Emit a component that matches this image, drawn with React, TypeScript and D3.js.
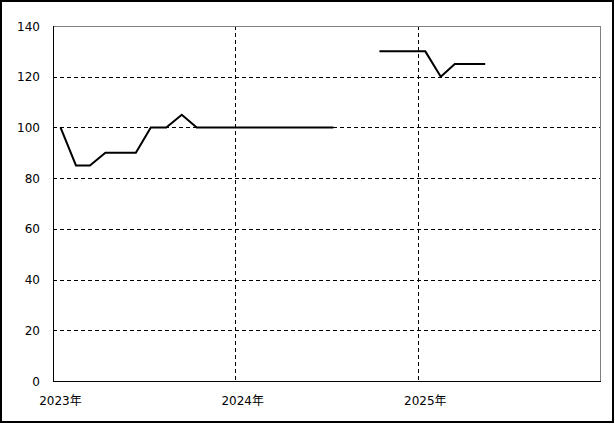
import React from "react";
import * as d3 from "d3";

const months: string[] = [
  "2023-01","2023-02","2023-03","2023-04","2023-05","2023-06","2023-07","2023-08","2023-09","2023-10","2023-11","2023-12",
  "2024-01","2024-02","2024-03","2024-04","2024-05","2024-06","2024-07","2024-08","2024-09","2024-10","2024-11","2024-12",
  "2025-01","2025-02","2025-03","2025-04","2025-05",
];
const values: (number | null)[] = [
  100, 85, 85, 90, 90, 90, 100, 100, 105, 100, 100, 100,
  100, 100, 100, 100, 100, 100, 100, null, null, 130, 130, 130,
  130, 120, 125, 125, 125,
];
const yTicks: number[] = [0, 20, 40, 60, 80, 100, 120, 140];
const yearTicks: number[] = [2023, 2024, 2025];
const yearLabels: string[] = ["2023年", "2024年", "2025年"];

const W = 615;
const H = 424;
const left = 53;
const right = 600;
const top = 26;
const bottom = 381;

export default function App() {
  const x = d3
    .scaleTime()
    .domain([new Date(2023, 0, 1), new Date(2026, 0, 1)])
    .range([left, right]);
  const y = d3.scaleLinear().domain([0, 140]).range([bottom, top]);

  const data = months.map((m, i) => {
    const [yy, mm] = m.split("-").map(Number);
    return { date: new Date(yy, mm - 1, 16), value: values[i] };
  });

  const line = d3
    .line<{ date: Date; value: number | null }>()
    .defined((d) => d.value != null)
    .x((d) => x(d.date))
    .y((d) => y(d.value as number));

  const font = "'DejaVu Sans', 'Noto Sans CJK JP', sans-serif";

  return (
    <svg
      width={W}
      height={H}
      style={{ position: "absolute", left: 0, top: 0, background: "#fff" }}
    >
      <rect x={0} y={0} width={W} height={H} fill="#fff" />
      <rect x={1} y={1} width={612} height={421} fill="none" stroke="#000" strokeWidth={2} />
      {/* horizontal gridlines */}
      {yTicks
        .filter((t) => t > 0 && t < 140)
        .map((t) => (
          <line
            key={"g" + t}
            x1={left}
            x2={right}
            y1={Math.round(y(t)) + 0.5}
            y2={Math.round(y(t)) + 0.5}
            stroke="#000"
            strokeDasharray="4,3"
          />
        ))}
      {/* vertical gridlines */}
      {yearTicks
        .filter((yr) => yr > 2023)
        .map((yr) => {
          const xx = Math.round(x(new Date(yr, 0, 1))) + 0.5;
          return (
            <line
              key={"v" + yr}
              x1={xx}
              x2={xx}
              y1={top}
              y2={bottom}
              stroke="#000"
              strokeDasharray="4,3"
            />
          );
        })}
      {/* frame */}
      <line x1={left} x2={right + 0.5} y1={top + 0.5} y2={top + 0.5} stroke="#808080" />
      <line x1={right + 0.5} x2={right + 0.5} y1={top} y2={bottom} stroke="#808080" />
      <line x1={left + 0.5} x2={left + 0.5} y1={top} y2={bottom + 1} stroke="#000" />
      <line x1={left} x2={right + 1} y1={bottom + 0.5} y2={bottom + 0.5} stroke="#000" />
      {/* data line */}
      <path d={line(data) || ""} fill="none" stroke="#000" strokeWidth={2} strokeLinejoin="miter" />
      {/* y labels */}
      {yTicks.map((t) => (
        <text
          key={"yl" + t}
          x={40}
          y={y(t) + 1}
          textAnchor="end"
          dominantBaseline="middle"
          fontFamily={font}
          fontSize={12}
          fill="#000"
        >
          {t}
        </text>
      ))}
      {/* x labels */}
      {yearTicks.map((yr, i) => (
        <text
          key={"xl" + yr}
          x={x(new Date(yr, 0, 16))}
          y={405}
          textAnchor="middle"
          fontFamily={font}
          fontSize={12}
          fill="#000"
        >
          {yearLabels[i]}
        </text>
      ))}
    </svg>
  );
}
